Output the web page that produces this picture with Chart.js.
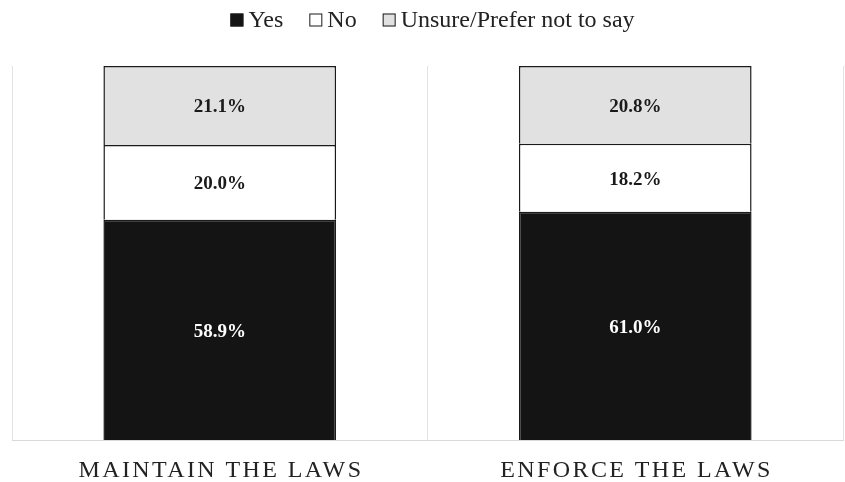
<!DOCTYPE html>
<html>
<head>
<meta charset="utf-8">
<script src="https://cdn.jsdelivr.net/npm/chart.js@4"></script>
<style>
    html, body { margin: 0; padding: 0; background: #ffffff; }
    #wrap { width: 845px; height: 482px; }
</style>
</head>
<body>
<div id="wrap"><canvas id="surveyChart" width="845" height="482"></canvas></div>
<script>
// Survey results, percent of respondents
const categories = ['MAINTAIN THE LAWS', 'ENFORCE THE LAWS'];
const yesValues = [58.9, 61.0];
const noValues = [20.0, 18.2];
const unsureValues = [21.1, 20.8];

const serif = '"Liberation Serif", "Times New Roman", serif';

// draws the percentage in the middle of every segment
const segmentLabels = {
    id: 'segmentLabels',
    afterDatasetsDraw(chart) {
        const ctx = chart.ctx;
        ctx.save();
        ctx.font = 'bold 19px ' + serif;
        ctx.textAlign = 'center';
        ctx.textBaseline = 'middle';
        chart.data.datasets.forEach((ds, i) => {
            const meta = chart.getDatasetMeta(i);
            meta.data.forEach((bar, j) => {
                const c = bar.getCenterPoint();
                ctx.fillStyle = i === 0 ? '#ffffff' : '#1a1a1a';
                ctx.fillText(ds.data[j].toFixed(1) + '%', c.x, c.y + 2);
            });
        });
        ctx.restore();
    }
};

// category names under the bars, spaced out
const categoryLabels = {
    id: 'categoryLabels',
    afterDraw(chart) {
        const ctx = chart.ctx;
        const xScale = chart.scales.x;
        const spacing = 2.4;
        ctx.save();
        ctx.font = '24px ' + serif;
        ctx.fillStyle = '#222222';
        ctx.textAlign = 'center';
        ctx.textBaseline = 'middle';
        ctx.letterSpacing = spacing + 'px';
        chart.data.labels.forEach((label, i) => {
            ctx.fillText(label, xScale.getPixelForValue(i) + spacing / 2, chart.chartArea.bottom + 31);
        });
        ctx.restore();
    }
};

// legend row on top: small box, short gap, label
const topLegend = {
    id: 'topLegend',
    afterDraw(chart) {
        const ctx = chart.ctx;
        const box = 13;
        const gap = 5;
        const itemGap = 26;
        ctx.save();
        ctx.font = '24px ' + serif;
        ctx.textBaseline = 'middle';
        const items = chart.data.datasets.map(ds => ({
            text: ds.label,
            fill: ds.backgroundColor,
            w: ctx.measureText(ds.label).width
        }));
        let total = 0;
        items.forEach((it, i) => {
            total += box + gap + it.w + (i < items.length - 1 ? itemGap : 0);
        });
        const area = chart.chartArea;
        let x = (area.left + area.right) / 2 - total / 2 + 5;
        const y = 20;
        items.forEach(it => {
            ctx.fillStyle = it.fill;
            ctx.fillRect(x, y - box / 2, box, box);
            ctx.strokeStyle = '#1a1a1a';
            ctx.lineWidth = 1;
            ctx.strokeRect(x + 0.5, y - box / 2 + 0.5, box - 1, box - 1);
            ctx.fillStyle = '#222222';
            ctx.fillText(it.text, x + box + gap, y + 1);
            x += box + gap + it.w + itemGap;
        });
        ctx.restore();
    }
};

const ctx = document.getElementById('surveyChart').getContext('2d');

new Chart(ctx, {
    type: 'bar',
    data: {
        labels: categories,
        datasets: [
            {
                label: 'Yes',
                data: yesValues,
                backgroundColor: '#141414',
                borderColor: '#1a1a1a',
                borderWidth: 1.5
            },
            {
                label: 'No',
                data: noValues,
                backgroundColor: '#ffffff',
                borderColor: '#1a1a1a',
                borderWidth: 1.5
            },
            {
                label: 'Unsure/Prefer not to say',
                data: unsureValues,
                backgroundColor: '#e1e1e1',
                borderColor: '#1a1a1a',
                borderWidth: 1.5
            }
        ]
    },
    options: {
        responsive: false,
        animation: false,
        layout: {
            padding: { left: 12, right: 2, top: 66, bottom: 42 }
        },
        datasets: {
            bar: { barPercentage: 0.56, categoryPercentage: 1 }
        },
        scales: {
            x: {
                stacked: true,
                grid: { display: true, offset: true, color: '#e3e3e3', drawTicks: false },
                border: { display: true, color: '#d9d9d9' },
                ticks: { display: false }
            },
            y: {
                stacked: true,
                display: false,
                min: 0,
                max: 100
            }
        },
        plugins: {
            legend: { display: false },
            tooltip: { enabled: false }
        }
    },
    plugins: [segmentLabels, categoryLabels, topLegend]
});
</script>
</body>
</html>
